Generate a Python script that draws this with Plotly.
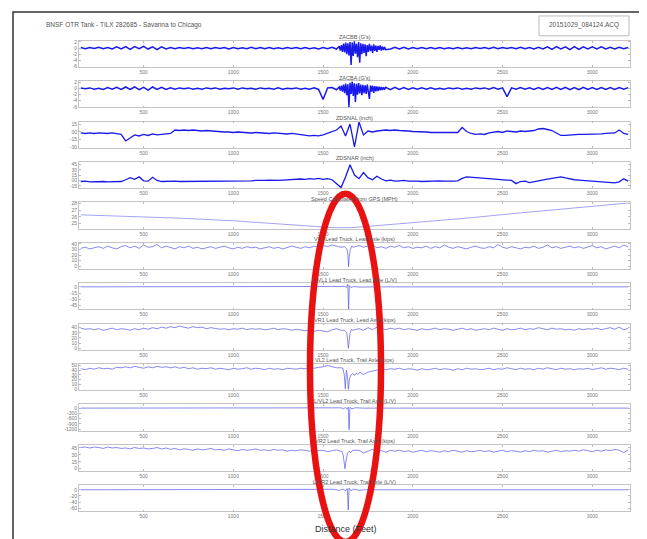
import plotly.graph_objects as go

# ---------------- data ----------------
# sample positions along the track (ft) for the dense channels
DIST = list(range(150, 3201, 25))
# finer sampling through the event zone for the accelerometer bursts
BURST_DIST = list(range(1590, 1849, 6))
X_TICKS = [500, 1000, 1500, 2000, 2500, 3000]

ZACBB = [0.2,-0.2,0.2,-0.1,0.3,-0.2,0.2,-0.3,0.4,-0.3,
         0.5,-0.4,0.5,-0.2,0.6,-0.3,0.4,-0.5,0.4,-0.3,
         0.2,-0.2,0.2,-0.1,0.2,-0.2,0.1,-0.2,0.2,-0.2,
         0.2,-0.1,0.2,-0.3,0.2,-0.2,0.1,-0.2,0.3,-0.2,
         0.2,-0.2,0.2,-0.2,0.1,-0.2,0.2,-0.1,0.2,-0.2,
         0.2,-0.2,0.1,-0.3,0.2,-0.2,0.3,-0.3,0.4,-0.5,
         0.5,-0.5,0.5,-0.5,0.5,-0.5,0.4,-0.4,0.3,-0.3,
         0.3,-0.3,0.3,-0.3,0.2,-0.2,0.2,-0.2,0.2,-0.2,
         0.2,-0.2,0.1,-0.2,0.2,-0.2,0.1,-0.2,0.2,-0.1,
         0.2,-0.2,0.3,-0.2,0.2,-0.1,0.2,-0.2,0.3,-0.2,
         0.2,-0.3,0.3,-0.3,0.4,-0.4,0.5,-0.3,0.4,-0.5,
         0.5,-0.4,0.4,-0.3,0.4,-0.3,0.4,-0.3,0.3,-0.3,
         0.3,-0.2,0.2]
ZACBB_BURST = [0.6,-0.8,1.0,-1.2,1.5,-1.4,1.8,-2.0,1.6,-2.4,2.0,
               -5.5,1.8,-2.6,2.2,-1.8,1.4,-3.0,2.0,-4.8,1.6,-2.0,
               1.4,-1.6,1.2,-2.6,1.0,-1.2,1.4,-1.0,0.8,-1.6,1.2,
               -0.9,0.8,-1.2,0.7,-0.6,0.9,-0.8,0.5,-0.6,0.4,-0.5]
ZACBA = [0.2,-0.1,0.2,-0.2,0.1,-0.3,0.3,-0.2,0.4,-0.3,
         0.5,-0.3,0.5,-0.4,0.4,-0.5,0.5,-0.3,0.4,-0.3,
         0.2,-0.2,0.2,-0.1,0.2,-0.2,0.1,-0.2,0.2,-0.1,
         0.2,-0.2,0.1,-0.1,0.2,-0.2,0.2,-0.1,0.1,-0.2,
         0.2,-0.1,0.1,-0.2,0.2,-0.2,0.1,-0.1,0.2,-0.2,
         0.1,-0.2,0.2,-0.3,-3.6,0.2,0.3,-0.4,0.5,-0.5,
         0.5,-0.5,0.5,-0.5,0.5,-0.5,0.4,-0.4,0.4,-0.4,
         0.4,-0.3,0.3,-0.3,0.2,-0.2,0.2,-0.2,0.2,-0.2,
         0.1,-0.2,0.2,-0.1,0.2,-0.2,0.1,-0.2,0.2,-0.1,
         0.2,-0.2,0.3,-0.2,0.2,-2.7,0.2,-0.2,0.3,-0.2,
         0.2,-0.3,0.3,-0.3,0.3,-0.3,0.4,-0.3,0.4,-0.4,
         0.3,-0.4,0.4,-0.3,0.3,-0.3,0.3,-0.3,0.3,-0.3,
         0.3,-0.2,0.3]
ZACBA_BURST = [0.5,-0.7,0.9,-1.0,1.3,-1.5,1.6,-2.2,1.4,-6.0,1.9,
               -1.8,2.3,-2.4,1.7,-4.4,1.5,-2.0,1.8,-1.6,1.3,-2.2,
               1.2,-1.5,1.0,-1.8,1.3,-1.2,-3.4,1.0,-1.0,0.9,-1.4,
               0.8,-0.9,0.7,-0.8,0.6,-0.6,0.5,-0.5,0.4,-0.4,0.4]
ZDSNAL = [-2,-3,-2,-3,-2,-3,-3,-2,-4,-5,
          -18,-12,-6,-8,-5,-7,-4,-6,-5,-4,
          -3,
          4,3,4,3,4,3,2,3,2,1,
          1,0,0,-1,0,-1,-1,-2,-1,-2,
          -2,-3,-2,-3,-3,-4,-3,-4,-5,-6,
          -8,-7,-8,-6,-3,0,4,
          12,-8,16,-30,20,-6,2,0,
          2,3,4,3,4,3,3,2,1,1,0,0,-1,-1,-2,-1,-2,-2,-1,
          9,1,-3,-5,-4,
          -5,-2,0,1,-1,2,1,0,2,1,2,3,
          6,7,5,3,-2,
          -7,-7,-6,-6,-5,-5,-5,-4,-4,-4,-3,-3,
          -2,4,-3,-5]
ZDSNAR = [-3,-2,-4,-3,-2,-3,-4,-3,-2,-3,
          2,8,3,10,-1,-2,9,0,-3,-2,
          -3,-2,-3,-3,-2,-3,-2,-2,-3,-2,-1,-2,-2,-1,-2,-1,-1,-2,-1,0,-1,0,1,0,0,1,
          2,3,2,4,3,5,4,6,3,5,2,
          -8,-20,10,44,15,5,22,8,2,12,4,
          -1,1,-2,-1,0,-2,-1,-2,-3,-2,-1,-2,-1,-2,-3,-2,-1,
          6,10,9,8,9,7,6,5,
          4,3,1,0,-9,-3,-2,-6,-3,
          0,2,4,6,8,10,7,
          4,2,1,0,-1,-2,-3,-4,-5,-6,-7,-4,5,-2]
SPEED_DIST = [150, 400, 700, 1000, 1300, 1450, 1550, 1650, 1750, 2000, 2300, 2600, 2900, 3200]
SPEED = [26.3, 26.1, 25.8, 25.4, 24.9, 24.55, 24.35, 24.35, 24.55, 25.1, 25.8, 26.6, 27.4, 28.1]
VL1 = [32,34,31,33,35,32,36,33,31,35,
       37,33,36,32,38,34,35,39,33,36,
       34,31,35,33,36,32,34,31,33,35,
       32,34,36,33,31,34,32,35,33,34,
       31,33,35,32,34,31,33,36,34,32,
       35,33,36,34,37,35,38,36,34,24,
       -1,27,37,34,36,38,33,35,32,36,
       34,37,33,35,32,34,33,36,32,35,
       33,38,34,32,35,33,31,34,36,33,
       32,35,33,39,34,32,35,33,31,34,
       33,36,32,34,38,33,35,32,34,36,
       33,35,32,34,37,33,35,31,34,36,
       33,38,35]
VL1_DIP_DIST = [1620, 1628, 1634, 1638, 1642, 1646, 1652, 1660, 1668]
VL1_DIP = [35, 33, 30, 20, -1, 18, 30, 36, 34]
LVL1_DIST = [150, 1500, 1580, 1600, 1620, 1630, 1638, 1642, 1646, 1655, 1670, 1700, 1800, 3200]
LVL1 = [0, 0, 0.5, -0.8, 1, -1, 6, -54, 3, -1.5, 0.8, -0.5, 0, 0]
VR1 = [39,37,38,36,38,35,37,39,36,38,
       37,35,38,36,39,37,40,38,41,39,
       42,40,43,41,39,42,40,41,38,40,
       39,37,38,36,38,37,39,36,38,37,
       38,36,37,39,36,38,37,35,37,36,
       34,36,33,35,34,32,36,38,35,22,
       0,30,38,35,40,36,41,38,36,39,
       37,39,36,38,37,35,38,36,37,39,
       36,38,37,35,37,39,36,38,35,37,
       38,36,39,37,35,38,36,37,39,36,
       38,37,40,38,36,39,37,38,36,37,
       35,38,36,38,37,39,36,38,40,37,
       41,36,39]
VR1_DIP_DIST = [1618, 1626, 1632, 1637, 1641, 1645, 1650, 1658, 1666]
VR1_DIP = [35, 33, 30, 15, 0, 14, 28, 37, 35]
VL2 = [43,41,44,42,45,43,44,42,46,45,
       47,45,48,46,44,47,45,48,46,47,
       45,47,44,46,43,45,42,44,43,45,
       42,44,43,41,44,42,43,45,42,44,
       43,41,44,42,43,41,44,43,42,44,
       43,45,44,46,47,50,48,45,2,18,
       1,30,34,31,36,38,40,42,41,43,
       42,44,41,43,42,40,43,41,42,44,
       41,43,42,40,43,41,44,42,43,41,
       42,44,41,43,42,45,43,41,44,42,
       43,41,44,42,45,43,41,44,42,43,
       41,43,42,44,41,43,45,42,44,43,
       41,44,42]
VL2_DIP_DIST = [1600, 1610, 1618, 1624, 1630, 1636, 1641, 1647, 1655, 1665, 1675, 1685, 1695, 1705]
VL2_DIP = [45, 44, 30, 1, 40, 25, 0, 22, 30, 33, 29, 34, 31, 36]
LVL2_DIST = [150, 1550, 1600, 1615, 1625, 1635, 1640, 1645, 1650, 1660, 1680, 1720, 3200]
LVL2 = [0, 0, 15, -30, 40, -60, 60, -1230, 50, -40, 20, 0, 0]
VR2 = [46,47,45,47,46,44,47,45,46,44,
       45,43,46,44,45,43,44,46,43,45,
       42,44,41,43,42,40,43,41,42,44,
       41,42,40,43,41,39,42,40,41,43,
       40,41,39,42,40,41,38,40,39,41,
       40,38,41,39,40,37,39,41,38,0,
       22,36,40,34,38,42,37,39,36,40,
       38,40,37,39,36,38,40,37,39,38,
       36,39,37,40,38,36,39,37,38,40,
       37,39,36,38,40,37,39,38,36,39,
       37,40,38,39,36,38,40,37,39,38,
       40,38,41,39,37,40,38,41,39,42,
       40,35,41]
VR2_DIP_DIST = [1595, 1605, 1612, 1617, 1622, 1628, 1636, 1645, 1655, 1665]
VR2_DIP = [38, 37, 30, 10, 0, 18, 34, 38, 35, 40]
LVR2_DIST = [150, 1520, 1560, 1590, 1610, 1625, 1635, 1640, 1645, 1655, 1670, 1700, 1730, 3200]
LVR2 = [0, 0, 1.5, -2, 2.5, -3, 4, -65, 5, -3, 2, -1.5, 0, 0]

TITLES = ["ZACBB (G's)", "ZACBA (G's)", "ZDSNAL (inch)", "ZDSNAR (inch)",
          "Speed Calculated from GPS (MPH)",
          "VL1 Lead Truck, Lead Axle (kips)", "L/VL1 Lead Truck, Lead Axle (L/V)",
          "VR1 Lead Truck, Lead Axle (kips)", "VL2 Lead Truck, Trail Axle (kips)",
          "L/VL2 Lead Truck, Trail Axle (L/V)", "VR2 Lead Truck, Trail Axle (kips)",
          "L/VR2 Lead Truck, Trail Axle (L/V)"]
Y_TICKS = [[2, 0, -2, -4, -6], [2, 0, -2, -4, -6], [15, 0, -15, -30], [45, 30, 15, 0, -15],
           [28, 27, 26, 25], [40, 30, 20, 10, 0], [0, -15, -30, -45], [40, 30, 20, 10, 0],
           [50, 40, 30, 20, 10, 0], [0, -300, -600, -900, -1200], [45, 30, 15, 0],
           [0, -20, -40, -60]]
Y_TICKTEXT = [["2", "0", "-2", "-4", "-6"], ["2", "0", "-2", "-4", "-6"],
              ["15", "00", "-15", "-30"], ["45", "30", "15", "00", "-15"],
              ["28", "27", "26", "25"], ["40", "30", "20", "10", "0"],
              ["0", "-15", "-30", "-45"], ["40", "30", "20", "10", "0"],
              ["50", "40", "30", "20", "10", "0"], ["0", "-300", "-600", "-900", "-1200"],
              ["45", "30", "15", "0"], ["0", "-20", "-40", "-60"]]
Y_RANGES = [[-6.2, 2.4], [-6.2, 2.4], [-32, 21], [-22, 52], [24.2, 28.2], [-5, 42],
            [-55, 9], [-3, 48], [-2, 53], [-1290, 215], [-5, 52], [-70, 15]]


def splice(xc, yc, xd, yd, pad=12):
    """Replace the coarse samples inside the detail window by the detail samples."""
    lo, hi = xd[0] - pad, xd[-1] + pad
    pts = [(x, y) for x, y in zip(xc, yc) if x < lo or x > hi] + list(zip(xd, yd))
    pts.sort()
    return [p[0] for p in pts], [p[1] for p in pts]


SERIES = [splice(DIST, ZACBB, BURST_DIST, ZACBB_BURST),
          splice(DIST, ZACBA, BURST_DIST, ZACBA_BURST),
          (DIST, ZDSNAL), (DIST, ZDSNAR),
          (SPEED_DIST, SPEED),
          splice(DIST, VL1, VL1_DIP_DIST, VL1_DIP),
          (LVL1_DIST, LVL1),
          splice(DIST, VR1, VR1_DIP_DIST, VR1_DIP),
          splice(DIST, VL2, VL2_DIP_DIST, VL2_DIP),
          (LVL2_DIST, LVL2),
          splice(DIST, VR2, VR2_DIP_DIST, VR2_DIP),
          (LVR2_DIST, LVR2)]

# ---------------- figure ----------------
W, H = 647, 539
PL, PR = 71, 622          # plot left/right (px)
TOP0, STEP, PH = 31, 40.7, 26.5

fig = go.Figure()
layout = dict(width=W, height=H, margin=dict(l=0, r=0, t=0, b=0),
              paper_bgcolor="white", plot_bgcolor="white", showlegend=False,
              font=dict(family="Liberation Sans, Arial, sans-serif"))
annotations, shapes = [], []
tickfont = dict(size=5, color="#777777")

for i, (xs, ys) in enumerate(SERIES):
    k = "" if i == 0 else str(i + 1)
    top = TOP0 + i * STEP
    bot = top + PH
    if i < 2:
        color, lw = "rgb(25,25,235)", 1.5
    elif i < 4:
        color, lw = "rgb(25,25,235)", 1.3
    elif i == 4:
        color, lw = "rgb(140,140,240)", 0.8
    else:
        color, lw = "rgb(85,85,235)", 0.7
    fig.add_trace(go.Scatter(x=xs, y=ys, mode="lines", xaxis="x" + k, yaxis="y" + k,
                             line=dict(color=color, width=lw), hoverinfo="skip"))
    layout["xaxis" + k] = dict(domain=[PL / W, PR / W], range=[140, 3210], anchor="y" + k,
                               tickvals=X_TICKS, ticks="inside", ticklen=2,
                               tickcolor="#bbbbbb", showline=True, mirror="ticks",
                               linecolor="#c4c4c4", linewidth=0.8, showgrid=False,
                               zeroline=False, tickfont=tickfont, ticklabelstandoff=0)
    layout["yaxis" + k] = dict(domain=[1 - bot / H, 1 - top / H], range=Y_RANGES[i],
                               anchor="x" + k, tickvals=Y_TICKS[i], ticktext=Y_TICKTEXT[i],
                               ticks="inside", ticklen=2, tickcolor="#bbbbbb",
                               showline=True, mirror="ticks", linecolor="#c4c4c4",
                               linewidth=0.8, showgrid=False, zeroline=False,
                               tickfont=tickfont)
    annotations.append(dict(text=TITLES[i], x=(PL + PR) / 2 / W, y=1 - (top + 0.5) / H,
                            xref="paper", yref="paper", xanchor="center", yanchor="bottom",
                            showarrow=False, borderpad=0,
                            font=dict(size=5.5, color="#555555")))

annotations.append(dict(text="BNSF OTR Tank - TILX 282685 - Savanna to Chicago",
                        x=36 / W, y=1 - 15 / H, xref="paper", yref="paper",
                        xanchor="left", yanchor="middle", showarrow=False,
                        font=dict(size=6.5, color="#555555")))
annotations.append(dict(text="20151029_084124.ACQ", x=(531 + 621) / 2 / W, y=1 - 15.5 / H,
                        xref="paper", yref="paper", xanchor="center", yanchor="middle",
                        showarrow=False, font=dict(size=6.5, color="#555555")))
annotations.append(dict(text="Distance (Feet)", x=338 / W, y=1 - 523 / H,
                        xref="paper", yref="paper", xanchor="center", yanchor="middle",
                        showarrow=False, borderpad=0, font=dict(size=9, color="#333333")))

shapes.append(dict(type="rect", xref="paper", yref="paper", x0=531 / W, x1=621 / W,
                   y0=1 - 26 / H, y1=1 - 6 / H, line=dict(color="#bbbbbb", width=1)))
shapes.append(dict(type="rect", xref="paper", yref="paper", x0=5 / W, x1=639 / W,
                   y0=1 - 536 / H, y1=1 - 2 / H, line=dict(color="#333333", width=1.5)))
shapes.append(dict(type="circle", xref="paper", yref="paper", x0=302 / W, x1=373 / W,
                   y0=1 - 536 / H, y1=1 - 185 / H, line=dict(color="rgb(232,18,18)", width=6.5)))

layout["annotations"] = annotations
layout["shapes"] = shapes
fig.update_layout(**layout)
fig.write_html("out.html")
